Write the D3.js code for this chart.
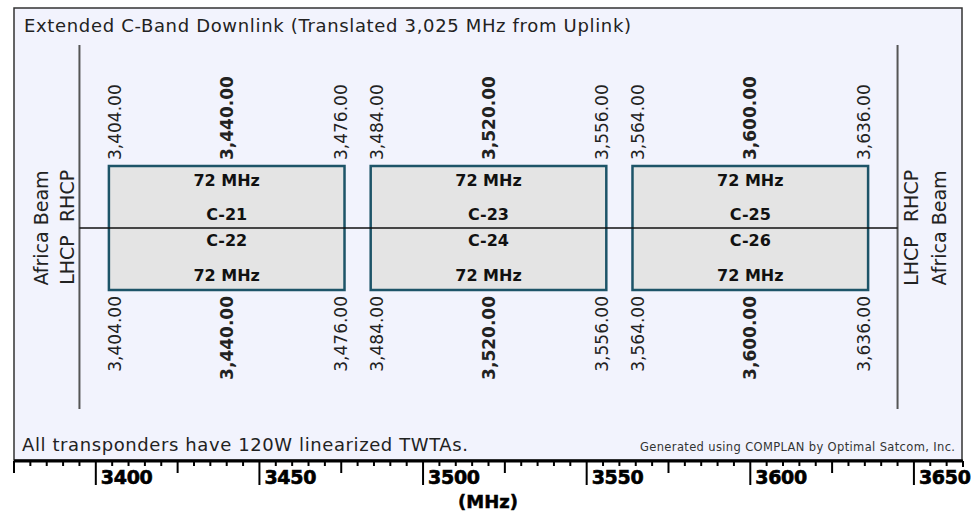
<!DOCTYPE html>
<html><head><meta charset="utf-8">
<script src="https://cdn.jsdelivr.net/npm/d3@7"></script>
<style>body{margin:0;background:#fff}svg{display:block}</style>
</head><body><svg id="c" width="974" height="515"></svg>
<script>
const titleText = "Extended C-Band Downlink (Translated 3,025 MHz from Uplink)";
const footText = "All transponders have 120W linearized TWTAs.";
const creditText = "Generated using COMPLAN by Optimal Satcom, Inc.";
const beamName = "Africa Beam";
const upperPol = "RHCP", lowerPol = "LHCP";
const upperChannels = ["C-21", "C-23", "C-25"];
const lowerChannels = ["C-22", "C-24", "C-26"];
const centerFreqs = [3440, 3520, 3600];
const bandwidths = [72, 72, 72];
const bandEdges = [3395, 3645];
const axisTicks = [3400, 3450, 3500, 3550, 3600, 3650];
const axisDomain = [3375, 3665];
const axisTitle = "(MHz)";

const F = "'DejaVu Sans', sans-serif";
const svg = d3.select("#c");
const x = d3.scaleLinear().domain(axisDomain).range([14, 963]);
const fmt = d3.format(",.2f");
const yTop = 166, yMid = 228, yBot = 290;

// frame
svg.append("rect").attr("x", 14).attr("y", 8).attr("width", 948).attr("height", 452)
  .attr("fill", "#f2f3fd").attr("stroke", "#333").attr("stroke-width", 1.5);

svg.append("text").attr("x", 24).attr("y", 32).attr("font-family", F).attr("font-size", 18)
  .attr("textLength", 607).attr("lengthAdjust", "spacing").attr("fill", "#222").text(titleText);
svg.append("text").attr("x", 22).attr("y", 451).attr("font-family", F).attr("font-size", 18)
  .attr("textLength", 446).attr("lengthAdjust", "spacing").attr("fill", "#222").text(footText);
svg.append("text").attr("x", 640).attr("y", 451).attr("font-family", F)
  .attr("font-size", 11.5).attr("textLength", 315).attr("lengthAdjust", "spacing")
  .attr("fill", "#333").text(creditText);

// band edge lines
svg.selectAll("line.edge").data(bandEdges).join("line").attr("class", "edge")
  .attr("x1", d => x(d)).attr("x2", d => x(d)).attr("y1", 45).attr("y2", 409)
  .attr("stroke", "#555").attr("stroke-width", 2);

// boxes
const tp = centerFreqs.map((c, i) => ({c, bw: bandwidths[i], up: upperChannels[i], lo: lowerChannels[i]}));
svg.selectAll("rect.tp").data(tp).join("rect").attr("class", "tp")
  .attr("x", d => x(d.c - d.bw / 2)).attr("y", yTop)
  .attr("width", d => x(d.c + d.bw / 2) - x(d.c - d.bw / 2)).attr("height", yBot - yTop)
  .attr("fill", "#e4e4e4").attr("stroke", "#1d5468").attr("stroke-width", 2.5);

svg.append("line").attr("x1", x(bandEdges[0])).attr("x2", x(bandEdges[1]))
  .attr("y1", yMid).attr("y2", yMid).attr("stroke", "#111").attr("stroke-width", 1.5);

const g = svg.append("g").attr("font-family", F).attr("font-weight", "bold").attr("font-size", 16)
  .attr("fill", "#111").attr("text-anchor", "middle");
tp.forEach(d => {
  g.append("text").attr("x", x(d.c)).attr("y", 186).text(d.bw + " MHz");
  g.append("text").attr("x", x(d.c)).attr("y", 220).text(d.up);
  g.append("text").attr("x", x(d.c)).attr("y", 246).text(d.lo);
  g.append("text").attr("x", x(d.c)).attr("y", 281).text(d.bw + " MHz");
});

// frequency labels
tp.forEach(d => {
  const items = [
    {f: d.c - d.bw / 2, b: false, dx: 12}, {f: d.c, b: true, dx: 6}, {f: d.c + d.bw / 2, b: false, dx: 2}];
  items.forEach(it => {
    const xx = x(it.f) + it.dx;
    svg.append("text").attr("transform", `translate(${xx},160) rotate(-90)`)
      .attr("font-family", F).attr("font-size", 17).attr("font-weight", it.b ? "bold" : "normal")
      .attr("fill", "#222").text(fmt(it.f));
    svg.append("text").attr("transform", `translate(${xx},296) rotate(-90)`)
      .attr("text-anchor", "end")
      .attr("font-family", F).attr("font-size", 17).attr("font-weight", it.b ? "bold" : "normal")
      .attr("fill", "#222").text(fmt(it.f));
  });
});

// side labels
const side = [
  {x: 48, y: yMid, t: beamName}, {x: 74, y: 196, t: upperPol}, {x: 74, y: 260, t: lowerPol},
  {x: 918, y: 196, t: upperPol}, {x: 946, y: yMid, t: beamName}, {x: 918, y: 261, t: lowerPol}];
side.forEach(s => svg.append("text").attr("transform", `translate(${s.x},${s.y}) rotate(-90)`)
  .attr("text-anchor", "middle").attr("font-family", F).attr("font-size", 19).attr("fill", "#222").text(s.t));

// axis
const ax = svg.append("g");
ax.append("line").attr("x1", 14).attr("x2", 963).attr("y1", 461).attr("y2", 461)
  .attr("stroke", "#000").attr("stroke-width", 3);
const minor = d3.range(3380, 3665, 5);
ax.selectAll("line.t").data(minor).join("line").attr("class", "t")
  .attr("x1", d => x(d)).attr("x2", d => x(d)).attr("y1", 461)
  .attr("y2", d => d % 50 === 0 ? 485 : d % 25 === 0 ? 473 : 466)
  .attr("stroke", "#000").attr("stroke-width", 2);
ax.selectAll("line.e").data(axisDomain).join("line").attr("class", "e")
  .attr("x1", d => x(d)).attr("x2", d => x(d)).attr("y1", 461).attr("y2", (d, i) => i ? 467 : 473)
  .attr("stroke", "#000").attr("stroke-width", 2);
ax.selectAll("text").data(axisTicks).join("text")
  .attr("x", d => x(d) + 5).attr("y", 484).attr("font-family", F).attr("font-weight", "bold")
  .attr("font-size", 19).attr("letter-spacing", -0.3).attr("fill", "#000").attr("stroke", "#000")
  .attr("stroke-width", 0.6).text(d => d);
svg.append("text").attr("x", 488).attr("y", 508).attr("text-anchor", "middle").attr("font-family", F)
  .attr("font-weight", "bold").attr("font-size", 18).attr("fill", "#000").attr("stroke", "#000")
  .attr("stroke-width", 0.5).text(axisTitle);
</script></body></html>
